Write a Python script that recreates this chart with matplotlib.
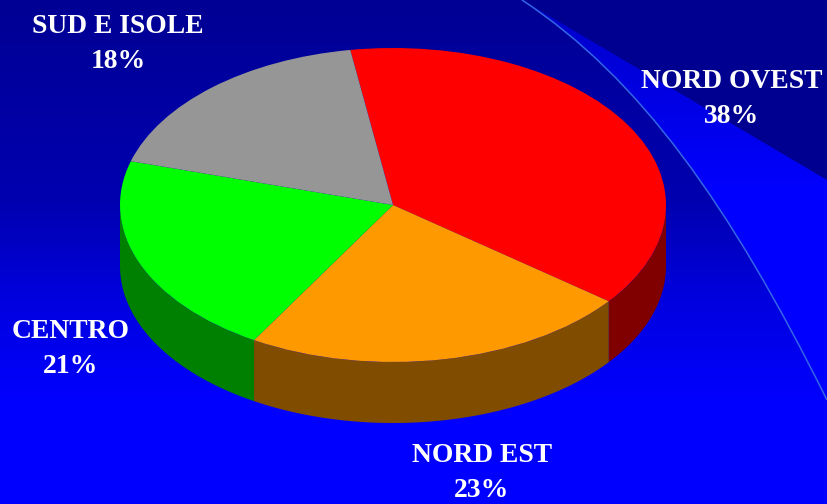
"""Italian regions pie with a slide-style blue background."""

import matplotlib.pyplot as plt
import numpy as np
from matplotlib.colors import LinearSegmentedColormap
from matplotlib.patches import PathPatch
from matplotlib.path import Path

W, H = 827, 504

REGIONS = ["NORD OVEST", "NORD EST", "CENTRO", "SUD E ISOLE"]
SHARES = [38, 23, 21, 18]
TOP_COLORS = ["#ff0000", "#ff9900", "#00ff00", "#969696"]
WALL_COLORS = ["#800000", "#804c00", "#008000", "#606060"]
LABEL_XY = [(732, 99), (482, 473), (71, 349), (118, 44)]

START_ANGLE = 99
CX, CY, RX, RY = 393, 205, 273, 157
DEPTH = 61 / RY

fig = plt.figure(figsize=(W / 100, H / 100), dpi=100)

# background in pixel coordinates
bg = fig.add_axes([0, 0, 1, 1])
bg.set_xlim(0, W)
bg.set_ylim(H, 0)
bg.axis("off")

main_cmap = LinearSegmentedColormap.from_list(
    "main",
    [(0, "#000094"), (0.4, "#0000b0"), (0.6, "#0000e0"), (0.8, "#0000ff"), (1, "#0000ff")],
)
grad = np.linspace(0, 1, 256).reshape(-1, 1)
bg.imshow(grad, cmap=main_cmap, extent=(0, W, H, 0), aspect="auto", zorder=0)

# swoosh right of the arc
arc_verts = [(522, 0), (640, 78), (730, 205), (827, 400)]
arc_codes = [Path.MOVETO, Path.CURVE4, Path.CURVE4, Path.CURVE4]
swoosh = Path(
    arc_verts + [(827, 0), (522, 0)],
    arc_codes + [Path.LINETO, Path.LINETO],
)
bright_cmap = LinearSegmentedColormap.from_list(
    "bright", [(0, "#0000c8"), (0.38, "#0000ff"), (1, "#0000ff")]
)
im = bg.imshow(grad, cmap=bright_cmap, extent=(0, W, H, 0), aspect="auto", zorder=1)
clip = PathPatch(swoosh, transform=bg.transData, fc="none", ec="none")
bg.add_patch(clip)
im.set_clip_path(clip)
bg.fill([522, 827, 827], [0, 0, 180], color="#000090", lw=0, zorder=2)
bg.add_patch(PathPatch(Path(arc_verts, arc_codes), fc="none", ec="#3366e6", lw=1.1, zorder=3))
bg.set_xlim(0, W)
bg.set_ylim(H, 0)

# pie axes: unit circle squeezed to the tilted ellipse
ax = fig.add_axes([0, 0, 1, 1])
ax.patch.set_alpha(0)
ax.pie(
    SHARES,
    colors=TOP_COLORS,
    startangle=START_ANGLE,
    counterclock=False,
    radius=1,
    wedgeprops={"linewidth": 0, "zorder": 5},
)
ax.set_aspect("auto")
ax.set_xlim(-CX / RX, (W - CX) / RX)
ax.set_ylim(-(H - CY) / RY, CY / RY)

# side wall, only the front half of the disc shows
edges = START_ANGLE - np.cumsum([0] + SHARES) * 3.6
for i in range(len(SHARES)):
    hi, lo = edges[i], edges[i + 1]
    lo_f, hi_f = (lo + 360) % 360, (hi + 360) % 360
    if hi_f < lo_f:
        hi_f = 360 if lo_f >= 180 else hi_f
    a, b = max(lo_f, 180), min(hi_f, 360)
    if b <= a:
        continue
    t = np.radians(np.linspace(a, b, 120))
    xs = np.r_[np.cos(t), np.cos(t[::-1])]
    ys = np.r_[np.sin(t), np.sin(t[::-1]) - DEPTH]
    ax.fill(xs, ys, color=WALL_COLORS[i], lw=0, zorder=4)

for name, share, (lx, ly) in zip(REGIONS, SHARES, LABEL_XY):
    ax.text(
        lx, ly, f"{name}\n{share}%",
        transform=bg.transData,
        ha="center", va="center", multialignment="center",
        family="Liberation Serif", weight="bold", fontsize=19.9,
        color="white", linespacing=1.55, zorder=10,
    )

fig.savefig("out.png", dpi=100)
